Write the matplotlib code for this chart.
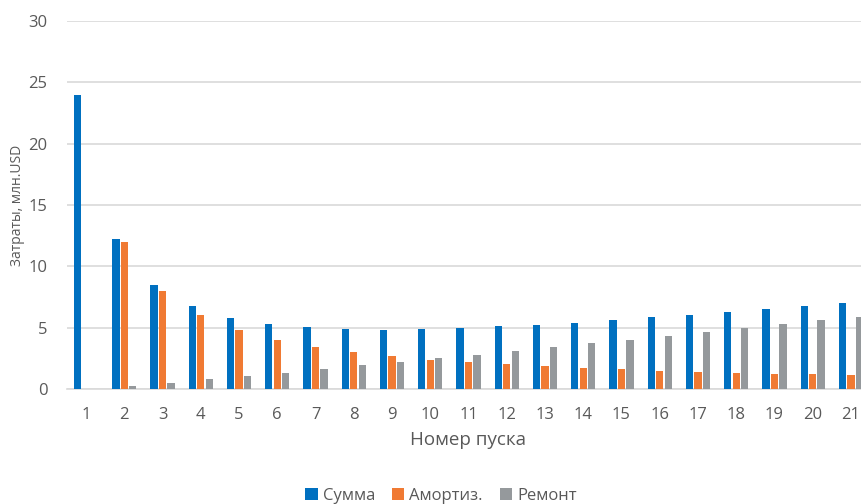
import numpy as np
import matplotlib.pyplot as plt

plt.rcParams['font.family'] = ['Open Sans', 'DejaVu Sans']

# Costs per launch, mln USD
launches = list(range(1, 22))
total = [24.0, 12.25, 8.5, 6.8, 5.8, 5.3, 5.03, 4.93, 4.85, 4.9, 4.97, 5.1, 5.22,
         5.42, 5.62, 5.83, 6.05, 6.28, 6.55, 6.8, 7.04]
amort = [0.0, 12.0, 8.0, 6.0, 4.8, 4.0, 3.43, 3.0, 2.67, 2.4, 2.18, 2.0, 1.85,
         1.71, 1.6, 1.5, 1.41, 1.33, 1.26, 1.2, 1.14]
repair = [0.0, 0.25, 0.5, 0.8, 1.1, 1.33, 1.62, 1.93, 2.2, 2.5, 2.78, 3.1, 3.4,
          3.72, 4.02, 4.33, 4.64, 4.95, 5.28, 5.6, 5.9]

series_names = ['Сумма', 'Амортиз.', 'Ремонт']
colors = ['#0070C0', '#F07A33', '#95999C']
text_col = '#595959'

fig = plt.figure(figsize=(8.61, 5.04), dpi=100)
ax = fig.add_axes([67 / 861, 115 / 504, 803 / 861, 368 / 504])

x = np.array(launches)
w = 0.19
step = 0.222
for i, (vals, name, c) in enumerate(zip([total, amort, repair], series_names, colors)):
    ax.bar(x + (i - 1) * step, vals, width=w, color=c, label=name, zorder=3)

ax.set_xlim(0.5, 21.5)
ax.set_ylim(0, 30)
ax.set_yticks(range(0, 31, 5))
ax.set_xticks(launches)
ax.grid(axis='y', color='#D9D9D9', linewidth=1.2, zorder=0)
for s in ['top', 'right', 'left']:
    ax.spines[s].set_visible(False)
ax.spines['bottom'].set_color('#D9D9D9')
ax.spines['bottom'].set_linewidth(1.2)
ax.tick_params(axis='both', length=0, labelsize=12, colors=text_col)
ax.tick_params(axis='y', pad=14)
ax.tick_params(axis='x', pad=13)

ax.set_xlabel('Номер пуска', fontsize=13.5, color=text_col, labelpad=6)
fig.text(18 / 861, 1 - 205 / 504, 'Затраты, млн.USD', rotation=90, fontsize=10,
         color=text_col, ha='center', va='center')

fig.legend(loc='center', bbox_to_anchor=(441 / 861, 1 - 496 / 504), ncol=3,
           frameon=False, fontsize=12, handlelength=0.75, handleheight=0.75,
           handletextpad=0.3, columnspacing=1.0, labelcolor=text_col)

fig.savefig('out.png', dpi=100)
